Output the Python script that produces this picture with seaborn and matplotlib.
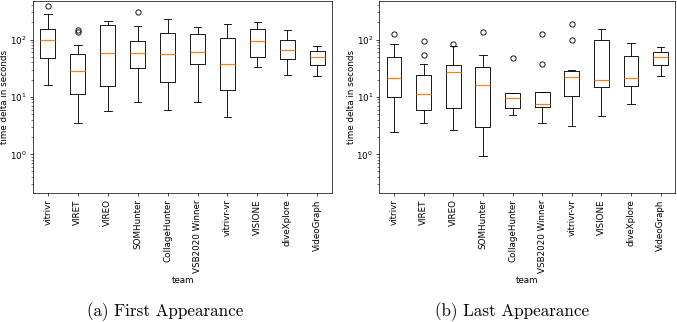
import pandas as pd
import matplotlib.pyplot as plt
import seaborn as sns

# teams on the x axis (same order in both panels)
teams = ["vitrivr", "VIRET", "VIREO", "SOMHunter", "CollageHunter",
         "VSB2020 Winner", "vitrivr-vr", "VISIONE", "diveXplore", "VideoGraph"]

# time deltas in seconds, one list per team (estimated from the boxes)
first_appearance = [
    [16, 30, 47, 70, 100, 125, 155, 284, 382],
    [3.5, 6, 9, 11.1, 16, 22, 27.7, 35, 45, 57, 79.5, 138, 150],
    [5.6, 15.5, 58.5, 182, 211],
    [8.2, 18, 31.6, 44, 58.5, 75, 94.6, 175, 299],
    [5.85, 18, 57, 130, 229],
    [8.2, 37, 60, 125, 166],
    [4.47, 13.4, 38, 105, 185],
    [33.3, 49, 94.6, 151, 205],
    [24.5, 46.7, 65, 98, 145],
    [23.2, 36.6, 50.5, 63, 77],
]

last_appearance = [
    [2.45, 5, 9.75, 15, 21.7, 32, 49, 84, 127],
    [3.5, 4.2, 5, 5.85, 7.5, 9.5, 11.4, 15, 20, 24.2, 37.6, 54.7, 96],
    [2.62, 4.5, 6.5, 15, 27.2, 31, 36, 76, 85],
    [0.92, 1.8, 3.0, 8, 16, 25, 33.3, 54.7, 136],
    [4.79, 5.6, 6.43, 8, 9.35, 10.5, 11.5, 11.8, 48.5],
    [3.43, 5, 6, 6.6, 6.9, 7.2, 7.5, 9, 11, 12, 12.2, 37, 125],
    [3.08, 5, 8, 10.4, 14, 19, 22.6, 24, 26, 27.7, 29.5, 98, 187],
    [4.54, 15.1, 20, 100, 155],
    [7.45, 15.5, 20.9, 51.8, 86],
    [23.2, 36.6, 49, 61.7, 74],
]

captions = ["(a) First Appearance", "(b) Last Appearance"]


def to_frame(values):
    rows = []
    for team, vals in zip(teams, values):
        for v in vals:
            rows.append({"team": team, "seconds": v})
    return pd.DataFrame(rows)


fig = plt.figure(figsize=(677.4 / 63, 322.4 / 63))
ax1 = fig.add_axes([33 / 677, 1 - 193 / 322, 299 / 677, 192 / 322])
ax2 = fig.add_axes([379 / 677, 1 - 193 / 322, 296 / 677, 192 / 322])

for ax, values, caption, cx in zip([ax1, ax2], [first_appearance, last_appearance],
                                   captions, [165, 512]):
    df = to_frame(values)
    sns.boxplot(data=df, x="team", y="seconds", order=teams, ax=ax,
                color="black", fill=False, width=0.5, linewidth=1,
                medianprops=dict(color="#ff7f0e", linewidth=1.4),
                flierprops=dict(marker="o", markersize=6,
                                markerfacecolor="none", markeredgecolor="black"))
    # log scale set afterwards so the stats stay in linear space
    ax.set_yscale("log")
    ax.set_ylim(0.21, 480)
    ax.set_xlim(-0.5, 9.5)
    ax.tick_params(axis="x", labelrotation=90)
    ax.set_xlabel("team")
    ax.set_ylabel("time delta in seconds", labelpad=1)
    fig.text(cx / 677, 1 - 311 / 322, caption, ha="center", va="center",
             fontfamily="cmr10", fontsize=19.5)

fig.savefig("out.png", dpi=63)
